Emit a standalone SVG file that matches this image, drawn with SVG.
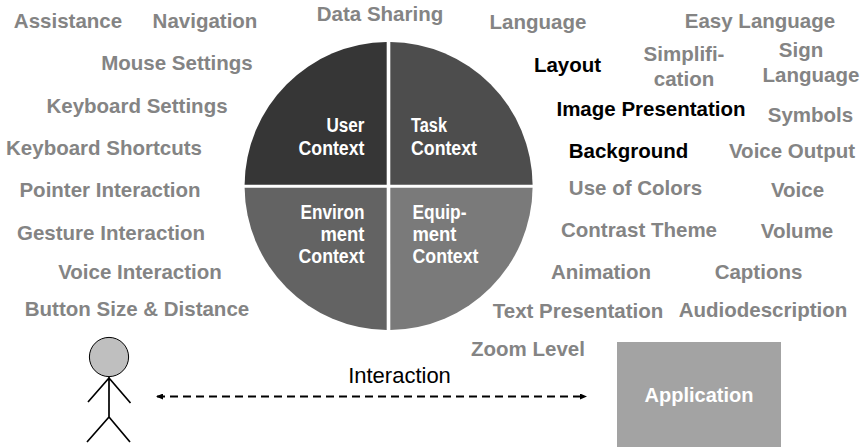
<svg xmlns="http://www.w3.org/2000/svg" width="866" height="447" viewBox="0 0 866 447">
<style>
text{font-family:"Liberation Sans",Arial,sans-serif}
.l{font-size:20.5px;font-weight:700;fill:#848484;text-anchor:middle}
.b{font-size:20.5px;font-weight:700;fill:#000;text-anchor:middle}
.w{font-size:20px;font-weight:700;fill:#fff}
.e{text-anchor:end}
.k{fill:none;stroke:#000;stroke-width:1.7}
</style>
<defs><marker id="a" markerWidth="7" markerHeight="6" refX="6" refY="3" orient="auto-start-reverse" markerUnits="userSpaceOnUse"><path d="M0 0L7 3L0 6z" fill="#000"/></marker></defs>
<g id="user-context"><path d="M386.7 184.7V42A144 144 0 0 0 244.6 184.7Z" fill="#363636"/><text class="w e" x="364.5" y="131.5" textLength="38" lengthAdjust="spacingAndGlyphs">User</text><text class="w e" x="364.5" y="154.5" textLength="66" lengthAdjust="spacingAndGlyphs">Context</text></g>
<g id="task-context"><path d="M390.3 184.7V42A144 144 0 0 1 532.6 184.7Z" fill="#4d4d4d"/><text class="w" x="411" y="131.5" textLength="36" lengthAdjust="spacingAndGlyphs">Task</text><text class="w" x="411" y="154.5" textLength="66" lengthAdjust="spacingAndGlyphs">Context</text></g>
<g id="environment-context"><path d="M386.7 187.7V330A144 144 0 0 1 244.6 187.7Z" fill="#636363"/><text class="w e" x="364.5" y="219" textLength="64" lengthAdjust="spacingAndGlyphs">Environ</text><text class="w e" x="364.5" y="241" textLength="44" lengthAdjust="spacingAndGlyphs">ment</text><text class="w e" x="364.5" y="263" textLength="66" lengthAdjust="spacingAndGlyphs">Context</text></g>
<g id="equipment-context"><path d="M390.3 187.7V330A144 144 0 0 0 532.6 187.7Z" fill="#7a7a7a"/><text class="w" x="412.5" y="219" textLength="54" lengthAdjust="spacingAndGlyphs">Equip-</text><text class="w" x="412.5" y="241" textLength="44" lengthAdjust="spacingAndGlyphs">ment</text><text class="w" x="412.5" y="263" textLength="66" lengthAdjust="spacingAndGlyphs">Context</text></g>
<g id="assistance"><text class="l" x="68" y="28">Assistance</text></g>
<g id="navigation"><text class="l" x="205" y="28">Navigation</text></g>
<g id="data-sharing"><text class="l" x="380" y="21">Data Sharing</text></g>
<g id="language"><text class="l" x="538" y="29">Language</text></g>
<g id="easy-language"><text class="l" x="760" y="28">Easy Language</text></g>
<g id="mouse-settings"><text class="l" x="177" y="70">Mouse Settings</text></g>
<g id="keyboard-settings"><text class="l" x="137" y="113">Keyboard Settings</text></g>
<g id="keyboard-shortcuts"><text class="l" x="104" y="155">Keyboard Shortcuts</text></g>
<g id="pointer-interaction"><text class="l" x="110" y="197">Pointer Interaction</text></g>
<g id="gesture-interaction"><text class="l" x="111" y="240">Gesture Interaction</text></g>
<g id="voice-interaction"><text class="l" x="140" y="279">Voice Interaction</text></g>
<g id="button-size"><text class="l" x="137" y="316">Button Size &amp; Distance</text></g>
<g id="layout"><text class="b" x="567.5" y="72">Layout</text></g>
<g id="simplification"><text class="l" x="684" y="61">Simplifi-</text><text class="l" x="684" y="85.5">cation</text></g>
<g id="sign-language"><text class="l" x="801" y="57">Sign</text><text class="l" x="811" y="81.5">Language</text></g>
<g id="image-presentation"><text class="b" x="651" y="116">Image Presentation</text></g>
<g id="symbols"><text class="l" x="810.5" y="122">Symbols</text></g>
<g id="background"><text class="b" x="628.5" y="158">Background</text></g>
<g id="voice-output"><text class="l" x="792" y="158">Voice Output</text></g>
<g id="use-of-colors"><text class="l" x="635.5" y="195">Use of Colors</text></g>
<g id="voice"><text class="l" x="797.5" y="197">Voice</text></g>
<g id="contrast-theme"><text class="l" x="639" y="237">Contrast Theme</text></g>
<g id="volume"><text class="l" x="797" y="238">Volume</text></g>
<g id="animation"><text class="l" x="601" y="279">Animation</text></g>
<g id="captions"><text class="l" x="758.5" y="279">Captions</text></g>
<g id="text-presentation"><text class="l" x="578" y="318">Text Presentation</text></g>
<g id="audiodescription"><text class="l" x="763" y="317">Audiodescription</text></g>
<g id="zoom-level"><text class="l" x="528" y="356">Zoom Level</text></g>
<g id="user"><circle cx="109" cy="357" r="19.6" fill="#bfbfbf" stroke="#000" stroke-width="1"/><path class="k" d="M109 377V417M109 378L88 402M109 378L130.5 403M109 417L87 442M109 417L130 442"/></g>
<g id="application"><rect x="617" y="342" width="164" height="105" fill="#a3a3a3"/><text x="699" y="402" font-size="20" font-weight="700" fill="#fff" text-anchor="middle">Application</text></g>
<g id="connectors"><path d="M157 396.5H586" fill="none" stroke="#000" stroke-width="1.8" stroke-dasharray="8 5" marker-start="url(#a)" marker-end="url(#a)"/><text x="399.5" y="383" font-size="22" fill="#000" text-anchor="middle">Interaction</text></g>
</svg>
